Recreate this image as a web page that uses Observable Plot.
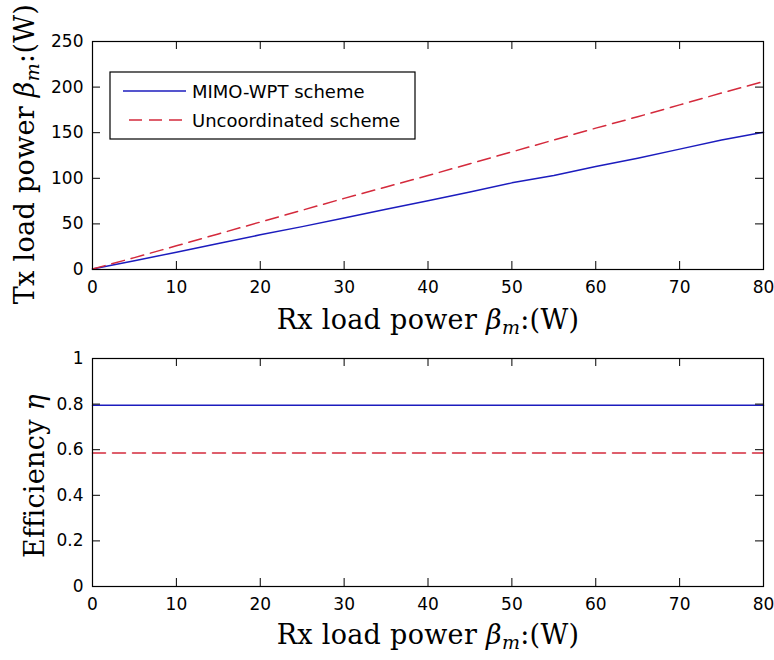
<!DOCTYPE html>
<html><head><meta charset="utf-8">
<script src="https://cdn.jsdelivr.net/npm/d3@7"></script>
<script src="https://cdn.jsdelivr.net/npm/@observablehq/plot@0.6"></script>
<style>
body{margin:0;background:#fff}
#chart{width:774px;height:660px;position:relative;overflow:hidden}
#chart svg{display:block}
</style>
</head><body><div id="chart"></div>
<script>
// ---- data ----
const rxPower = [0,5,10,15,20,25,30,35,40,45,50,55,60,65,70,75,80];
const mimoTx  = [0.5,9.5,19,28.5,38,47,56.5,66,75.5,85,95,103,113,122,132,142,150.5];
const uncTx   = [0.5,13,26,39,52,65,78,90.5,103,116,129,142,155,167.5,180.5,193.5,206];
const effX    = [0,80];
const mimoEff = [0.795,0.795];
const uncEff  = [0.586,0.586];
const xTicks   = [0,10,20,30,40,50,60,70,80];
const txTicks  = [0,50,100,150,200,250];
const effTicks = [0,0.2,0.4,0.6,0.8,1];
const seriesNames = ["MIMO-WPT scheme","Uncoordinated scheme"];
const seriesColors = ["#1c1cbe","#d42a3c"];
const seriesDash = [null,"13,7"];

const W = 774, mL = 92, mR = 11;
const tickLen = 8;
const tickFont = "DejaVu Sans, sans-serif";
const labelFont = "DejaVu Serif, serif";

function rows(xs, ys){ return xs.map((x,i)=>({x, y: ys[i]})); }

function makePlot({height, mT, mB, yDomain, yTicks, series}){
  const fw = W - mL - mR, fh = height - mT - mB;
  return Plot.plot({
    width: W, height,
    marginLeft: mL, marginRight: mR, marginTop: mT, marginBottom: mB,
    style: {fontFamily: tickFont, fontSize: "17px", color: "#000", background: "#fff", overflow: "visible"},
    x: {domain: [0,80]},
    y: {domain: yDomain},
    marks: [
      ...series.map((s,i)=>Plot.line(rows(s.x, s.y), {x:"x", y:"y", stroke: seriesColors[i], strokeWidth: 1.5, strokeDasharray: seriesDash[i]})),
      Plot.tickX(xTicks, {x: d=>d, insetTop: fh - tickLen, stroke:"#000"}),
      Plot.tickX(xTicks, {x: d=>d, insetBottom: fh - tickLen, stroke:"#000"}),
      Plot.tickY(yTicks, {y: d=>d, insetRight: fw - tickLen, stroke:"#000"}),
      Plot.tickY(yTicks, {y: d=>d, insetLeft: fw - tickLen, stroke:"#000"}),
      Plot.frame({stroke:"#000", strokeWidth: 1.2}),
      Plot.axisX(xTicks, {tickSize: 0, tickPadding: 11, label: null, tickFormat: d=>String(d)}),
      Plot.axisY(yTicks, {tickSize: 0, tickPadding: 9, label: null, tickFormat: d=>String(d)})
    ]
  });
}

function addLabel(svg, parts, attrs){
  const t = d3.select(svg).append("text")
    .attr("font-family", labelFont).attr("font-size", 27).attr("fill","#000")
    .attr("letter-spacing", 0.3).attr("text-anchor","middle");
  Object.entries(attrs).forEach(([k,v])=>t.attr(k,v));
  parts.forEach(p=>{
    const ts = t.append("tspan").text(p.t);
    if (p.italic) ts.attr("font-style","italic");
    if (p.dy) ts.attr("dy", p.dy);
    if (p.size) ts.attr("font-size", p.size);
  });
}
const betaParts = [
  {t:"β", italic:true},
  {t:"m", italic:true, dy:5, size:19},
  {t:":(W)", dy:-5}
];

const topPlot = makePlot({height: 320, mT: 41, mB: 51, yDomain: [0,250], yTicks: txTicks,
  series: [{x: rxPower, y: mimoTx}, {x: rxPower, y: uncTx}]});
const bottomPlot = makePlot({height: 340, mT: 38, mB: 74, yDomain: [0,1], yTicks: effTicks,
  series: [{x: effX, y: mimoEff}, {x: effX, y: uncEff}]});

addLabel(topPlot, [{t:"Rx load power "}, ...betaParts], {x: 428, y: 329});
addLabel(topPlot, [{t:"Tx load power "}, ...betaParts], {transform: "translate(34,154) rotate(-90)"});
addLabel(bottomPlot, [{t:"Rx load power "}, ...betaParts], {x: 428, y: 324});
addLabel(bottomPlot, [{t:"Efficiency "}, {t:"η", italic:true}], {transform: "translate(44,156) rotate(-90)"});

// legend (top panel)
const lg = d3.select(topPlot).append("g").attr("font-family", tickFont).attr("font-size", 18)
  .attr("text-anchor", "start");
lg.append("rect").attr("x",110).attr("y",72).attr("width",305).attr("height",67)
  .attr("fill","#fff").attr("stroke","#000").attr("stroke-width",1.2);
seriesNames.forEach((name,i)=>{
  const y = 91 + i*29;
  lg.append("line").attr("x1", i ? 129 : 123).attr("x2", 186).attr("y1", y).attr("y2", y)
    .attr("stroke", seriesColors[i]).attr("stroke-width", 1.5)
    .attr("stroke-dasharray", seriesDash[i]);
  lg.append("text").attr("x", 192).attr("y", y + 7).attr("fill","#000").text(name);
});

document.getElementById("chart").append(topPlot, bottomPlot);
</script>
</body></html>
